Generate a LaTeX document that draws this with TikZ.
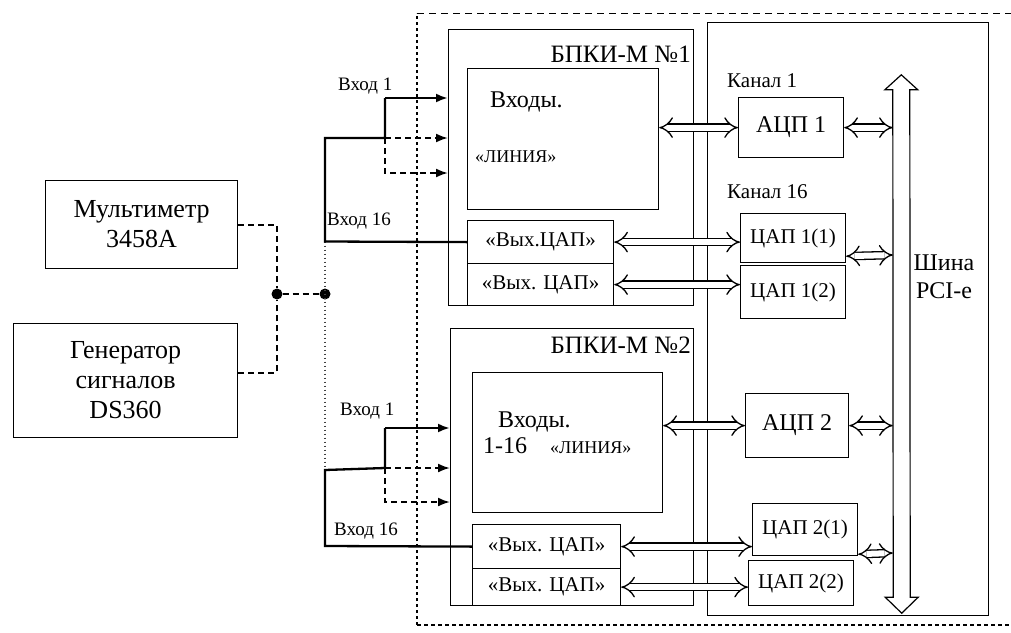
\documentclass[tikz,border=0pt]{standalone}
\usepackage{fontspec}
\setmainfont{Liberation Serif}
\usepackage{tikz}
\usetikzlibrary{arrows.meta}
\pgfdeclarelayer{nodelayer}
\pgfdeclarelayer{edgelayer}
\pgfsetlayers{nodelayer, edgelayer, main}

\tikzset{
	blk/.style={draw, line width=1.2pt, inner sep=0pt, anchor=north west, align=center},
	lbl/.style={inner sep=0pt, anchor=base west},
	wire/.style={line width=2.3pt},
	dwire/.style={line width=2pt, dash pattern=on 6pt off 4pt},
	dotline/.style={line width=1.2pt, dash pattern=on 1.5pt off 2.5pt, black!75},
	arr/.style={-{Latex[length=12pt,width=9pt]}},
	dbl/.style={double, double distance=6pt, line width=1.3pt, {Implies}-{Implies}},
	jdot/.style={circle, fill, inner sep=0pt, minimum size=11pt},
	f26/.style={font=\fontsize{26}{30}\selectfont},
	f25/.style={font=\fontsize{25}{29}\selectfont},
	f24/.style={font=\fontsize{24}{28}\selectfont},
	f21/.style={font=\fontsize{21}{25}\selectfont},
	f19/.style={font=\fontsize{19}{22}\selectfont},
	f18/.style={font=\fontsize{18}{21}\selectfont}
}

\begin{document}
\begin{tikzpicture} [x=1pt, y=-1pt]
	\useasboundingbox (0,0) rectangle (1011,632);
	\begin{pgfonlayer}{nodelayer}
		\node[blk, f26, minimum width=192pt, minimum height=88pt] (mm) at (45,180) {Мультиметр\\3458A};
		\node[blk, f26, minimum width=224pt, minimum height=114pt] (gen) at (13,323) {Генератор\\сигналов\\DS360};
		\node[jdot] (j1) at (277,294) {};
		\node[jdot] (j2) at (325,294) {};

		\node[blk, minimum width=245pt, minimum height=276pt] (b1) at (448,29) {};
		\node[lbl, f25, anchor=base east] (b1t) at (691,62) {БПКИ-М №1};
		\node[blk, minimum width=191pt, minimum height=141pt] (inp1) at (467,68) {};
		\node[lbl, f24] (inp1t) at (490,107) {Входы.};
		\node[lbl, f18] (inp1s) at (475,162) {«ЛИНИЯ»};
		\node[blk, f21, minimum width=146pt, minimum height=43pt] (out1a) at (467,220) {«Вых.ЦАП»};
		\node[blk, f21, minimum width=146pt, minimum height=42pt] (out1b) at (467,263) {«Вых. ЦАП»};
		\node[lbl, f19] (in1a) at (338,90) {Вход 1};
		\node[lbl, f19] (in1b) at (327,225) {Вход 16};

		\node[blk, minimum width=243pt, minimum height=277pt] (b2) at (450,328) {};
		\node[lbl, f25, anchor=base east] (b2t) at (691,353) {БПКИ-М №2};
		\node[blk, minimum width=190pt, minimum height=140pt] (inp2) at (472,372) {};
		\node[lbl, f24] (inp2t) at (498,427) {Входы.};
		\node[lbl, f24] (inp2n) at (483,453) {1-16};
		\node[lbl, f18] (inp2s) at (550,453) {«ЛИНИЯ»};
		\node[blk, f21, minimum width=148pt, minimum height=44pt] (out2a) at (472,524) {«Вых. ЦАП»};
		\node[blk, f21, minimum width=148pt, minimum height=37pt] (out2b) at (472,568) {«Вых. ЦАП»};
		\node[lbl, f19] (in2a) at (340,415) {Вход 1};
		\node[lbl, f19] (in2b) at (334,535) {Вход 16};

		\node[blk, minimum width=281pt, minimum height=593pt] (pc) at (707,22) {};
		\node[lbl, f21] (k1) at (727,87) {Канал 1};
		\node[lbl, f21] (k16) at (727,198) {Канал 16};
		\node[blk, f24, minimum width=105pt, minimum height=60pt] (adc1) at (738,97) {АЦП 1};
		\node[blk, f21, minimum width=105pt, minimum height=49pt] (dac11) at (740,213) {ЦАП 1(1)};
		\node[blk, f21, minimum width=105pt, minimum height=53pt] (dac12) at (740,265) {ЦАП 1(2)};
		\node[blk, f24, minimum width=103pt, minimum height=64pt] (adc2) at (745,393) {АЦП 2};
		\node[blk, f21, minimum width=105pt, minimum height=52pt] (dac21) at (752,503) {ЦАП 2(1)};
		\node[blk, f21, minimum width=105pt, minimum height=45pt] (dac22) at (748,560) {ЦАП 2(2)};
		\node[inner sep=0pt, minimum width=17pt, minimum height=507pt] (bus) at (901.5,343.5) {};
		\node[f24, align=center, inner sep=0pt] (bust) at (944,277) {Шина\\PCI-e};
	\end{pgfonlayer}
	\begin{pgfonlayer}{edgelayer}
		\coordinate (u0) at (325,241.5);
		\coordinate (u1) at (325,138);
		\coordinate (u2) at (385,138);
		\coordinate (u3) at (385,98);
		\coordinate (u4) at (385,173);
		\coordinate (l0) at (325,470);
		\coordinate (l1) at (325,546);
		\coordinate (l2) at (385,468);
		\coordinate (l3) at (385,428);
		\coordinate (l4) at (385,502);

		\draw[dwire] (mm.east) -| (j1);
		\draw[dwire] ([yshift=8pt]gen.east) -| (j1);
		\draw[dwire] (j1) -- (j2);
		\draw[dotline] (u0) -- (l0);
		\draw[line width=1.6pt, dash pattern=on 3pt off 3pt] (417,625) -- (417,13);
		\draw[line width=0.8pt, dash pattern=on 7pt off 5pt] (417,13) -- (1011,13);
		\draw[line width=1.6pt, dash pattern=on 4pt off 3pt] (417,625) -- (1011,625);

		\draw[wire] (out1a.west) -- (u0) -- (u1) -- (u2) -- (u3);
		\draw[wire, arr] (u3) -- (u3 -| b1.west);
		\draw[dwire, arr] (u2) -- (u2 -| b1.west);
		\draw[dwire, arr] (u2) -- (u4) -- (u4 -| b1.west);

		\draw[wire] (out2a.west) -- (l1) -- (l0) -- (l2) -- (l3);
		\draw[wire, arr] (l3) -- (l3 -| b2.west);
		\draw[dwire, arr] (l2) -- (l2 -| b2.west);
		\draw[dwire, arr] (l2) -- (l4) -- (l4 -| b2.west);

		\draw[dbl] (inp1.east |- adc1.west) -- (adc1.west);
		\draw[dbl] (adc1.east) -- (bus.west |- adc1.east);
		\draw[dbl] (out1a.east) -- (dac11.west |- out1a.east);
		\draw[dbl] (out1b.east) -- (dac12.west |- out1b.east);
		\draw[dbl] ([yshift=7pt]dac11.south east) -- (bus.west |- 0,255);
		\draw[dbl] (inp2.east |- adc2.west) -- (adc2.west);
		\draw[dbl] (adc2.east) -- (bus.west |- adc2.east);
		\draw[dbl] (out2a.east) -- (dac21.west |- out2a.east);
		\draw[dbl] (out2b.east) -- (dac22.west |- out2b.east);
		\draw[dbl] ([yshift=2pt]dac21.south east) -- (bus.west |- 0,553);

		\draw[line width=1.2pt] (bus.north west) -- ++(-8,0) -- ++(16.5,-15) -- ++(16.5,15) -- ++(-8,0) -- (bus.south east) -- ++(8,0) -- ++(-16.5,16) -- ++(-16.5,-16) -- ++(8,0) -- cycle;
	\end{pgfonlayer}
\end{tikzpicture}
\end{document}
